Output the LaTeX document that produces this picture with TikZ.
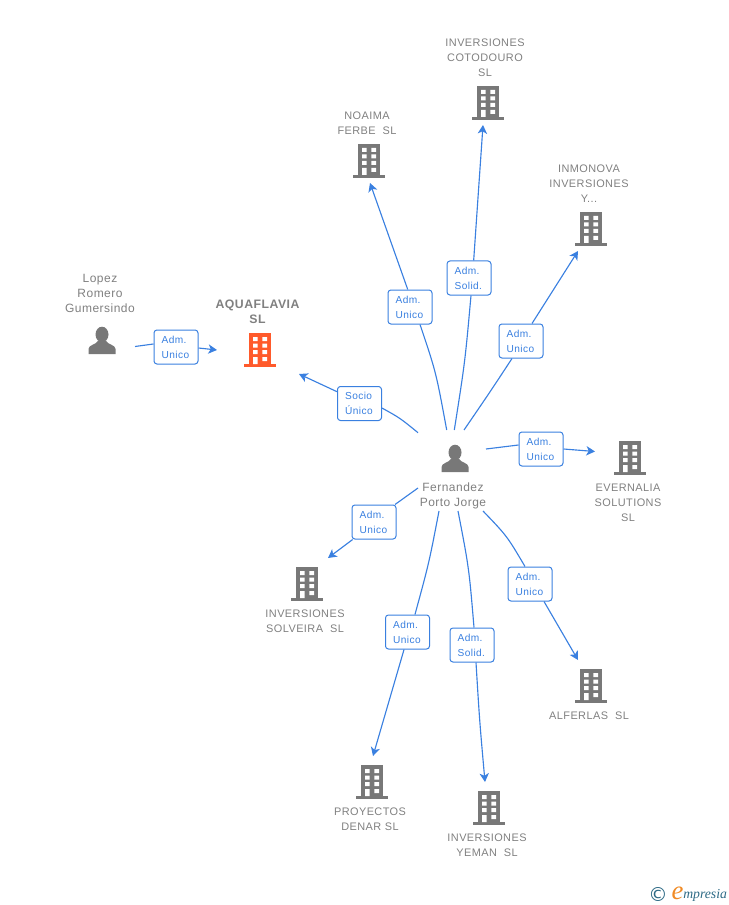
\documentclass[tikz,border=0pt]{standalone}
\usepackage{fontspec}
\setmainfont{Liberation Sans}
\newfontfamily\grayfont[LetterSpace=4]{Liberation Sans}
\newfontfamily\labfont[LetterSpace=4]{Liberation Sans}
\newfontfamily\logofont{Liberation Serif}
\newfontfamily\symfont{DejaVu Sans}
\usetikzlibrary{arrows.meta,backgrounds}
\definecolor{linkblue}{HTML}{3A80E0}
\definecolor{txtgray}{HTML}{808080}
\definecolor{icongray}{HTML}{787878}
\definecolor{mainorange}{HTML}{FF5A2B}
\definecolor{logoteal}{HTML}{2D6A85}
\definecolor{logoorange}{HTML}{F08A24}
\tikzset{
  x=0.75pt,y=-0.75pt,
  conn/.style={draw=linkblue,line width=0.85pt},
  arr/.style={conn,-{Stealth[length=6.5pt,width=7pt,inset=1.8pt]}},
  lab/.style={draw=linkblue,fill=white,rounded corners=2.2pt,line width=0.75pt,minimum height=25.5pt,inner xsep=5.75pt,inner ysep=0pt,text width=21.5pt,align=left,font=\labfont\fontsize{7.6}{11.25}\selectfont,text=linkblue},
  name text/.style={align=center,text=txtgray,inner sep=0pt,font=\grayfont\fontsize{8.2}{11.25}\selectfont},
  person text/.style={align=center,text=txtgray,inner sep=0pt,font=\grayfont\fontsize{9}{11.25}\selectfont},
  main text/.style={align=center,text=txtgray,inner sep=0pt,font=\grayfont\bfseries\fontsize{9.2}{11.25}\selectfont},
}
\newcommand{\bldg}[3]{%
  \begin{scope}[shift={(#1,#2)}]
    \fill[#3] (-11,-17) rectangle (11,15);
    \fill[#3] (-16,14) rectangle (16,17);
    \fill[white] (-7,-13) rectangle (-2.3,-9) (2.3,-13) rectangle (7,-9)
      (-7,-6.5) rectangle (-2.3,-2.5) (2.3,-6.5) rectangle (7,-2.5)
      (-7,0) rectangle (-2.3,4) (2.3,0) rectangle (7,4)
      (-7,7) rectangle (-2.3,14) (2.3,7) rectangle (7,11);
  \end{scope}}
\newcommand{\persona}[2]{%
  \begin{scope}[shift={(#1,#2)}]
    \fill[icongray] (0,-6.5) ellipse [x radius=6.5,y radius=7.8];
    \fill[icongray] (-13.5,13) -- (-13.5,8) .. controls (-13.5,4) and (-6,3.5) .. (-4,0)
      -- (4,0) .. controls (6,3.5) and (13.5,4) .. (13.5,8) -- (13.5,13) -- cycle;
  \end{scope}}
\begin{document}
\begin{tikzpicture}
\useasboundingbox (0,0) rectangle (728,905);
% labels
\node[lab] (l1) at (176,347) {Adm.\\Unico};
\node[lab] (l2) at (359.5,403.5) {Socio\\Único};
\node[lab] (l3) at (410,307) {Adm.\\Unico};
\node[lab] (l4) at (469,278) {Adm.\\Solid.};
\node[lab] (l5) at (521,341) {Adm.\\Unico};
\node[lab] (l6) at (541,449) {Adm.\\Unico};
\node[lab] (l7) at (374,522) {Adm.\\Unico};
\node[lab] (l8) at (407.5,632) {Adm.\\Unico};
\node[lab] (l9) at (472,645) {Adm.\\Solid.};
\node[lab] (l10) at (530,584) {Adm.\\Unico};
% free ends
\coordinate (s1) at (135,346.5); \coordinate (e1) at (217,350);
\coordinate (s2) at (418,432.7); \coordinate (e2) at (299,374);
\coordinate (s3) at (446.7,430); \coordinate (e3) at (370,183);
\coordinate (s4) at (454.3,430); \coordinate (e4) at (483,125);
\coordinate (s5) at (464,430); \coordinate (e5) at (578,251);
\coordinate (s6) at (486,449); \coordinate (e6) at (595,451.5);
\coordinate (s7) at (418,488); \coordinate (e7) at (328,558);
\coordinate (s8) at (439,511); \coordinate (e8) at (373,756);
\coordinate (s9) at (458,511); \coordinate (e9) at (485,782);
\coordinate (s10) at (483,511); \coordinate (e10) at (578,660);
\begin{scope}[on background layer]
\draw[conn] (s1) -- ([yshift=2.25pt]l1.west); \draw[arr] ([yshift=-0.75pt]l1.east) -- (e1);
\draw[conn] (s2) .. controls (400,418) .. ([yshift=-3.4pt]l2.east); \draw[arr] ([yshift=8.85pt]l2.west) -- (e2);
\draw[conn] (s3) .. controls (436,372) .. ([xshift=7.5pt]l3.south); \draw[arr] ([xshift=-1.7pt]l3.north) -- (e3);
\draw[conn] (s4) .. controls (465,362) .. ([xshift=1.5pt]l4.south); \draw[arr] ([xshift=3.5pt]l4.north) -- (e4);
\draw[conn] (s5) .. controls (490,392) .. ([xshift=-6.75pt]l5.south); \draw[arr] ([xshift=8.25pt]l5.north) -- (e5);
\draw[conn] (s6) -- ([yshift=3pt]l6.west); \draw[arr] (l6.east) -- (e6);
\draw[conn] (s7) -- ([xshift=15.75pt]l7.north); \draw[arr] ([xshift=-16pt]l7.south) -- (e7);
\draw[conn] (s8) .. controls (429,563) .. ([xshift=5.6pt]l8.north); \draw[arr] ([xshift=-2.6pt]l8.south) -- (e8);
\draw[conn] (s9) .. controls (469,568) .. ([xshift=1.5pt]l9.north); \draw[arr] ([xshift=3pt]l9.south) .. controls (479.5,720) .. (e9);
\draw[conn] (s10) .. controls (507,536) .. ([xshift=-3.75pt]l10.north); \draw[arr] ([xshift=10.5pt]l10.south) -- (e10);
\end{scope}
% icons
\bldg{369}{161}{icongray}
\bldg{488}{103}{icongray}
\bldg{591}{229}{icongray}
\bldg{630}{458}{icongray}
\bldg{307}{584}{icongray}
\bldg{591}{686}{icongray}
\bldg{372}{782}{icongray}
\bldg{489}{808}{icongray}
\bldg{260}{350}{mainorange}
\persona{102}{341}
\persona{455}{459}
% names
\node[person text] (n1) at (100,293) {Lopez\\Romero\\Gumersindo};
\node[main text] (n2) at (257.5,312) {AQUAFLAVIA\\SL};
\node[name text] (n3) at (367,123) {NOAIMA\\FERBE\ \ SL};
\node[name text] (n4) at (485,58) {INVERSIONES\\COTODOURO\\SL};
\node[name text] (n5) at (589,184) {INMONOVA\\INVERSIONES\\Y...};
\node[name text] (n6) at (628,503) {EVERNALIA\\SOLUTIONS\\SL};
\node[name text] (n7) at (305,621.5) {INVERSIONES\\SOLVEIRA\ \ SL};
\node[name text] (n8) at (589,716) {ALFERLAS\ \ SL};
\node[name text] (n9) at (370,819.5) {PROYECTOS\\DENAR SL};
\node[name text] (n10) at (487,845.5) {INVERSIONES\\YEMAN\ \ SL};
\node[person text] (n11) at (453,495.5) {Fernandez\\Porto Jorge};
% logo
\node[inner sep=0pt,text=logoteal,font=\symfont\fontsize{14.5}{14.5}\selectfont] (c) at (658,894) {©};
\node[inner sep=0pt,anchor=base,text=logoorange,font=\logofont\itshape\fontsize{20}{20}\selectfont] (le) at (677.5,899) {e};
\node[inner sep=0pt,anchor=base west,text=logoteal,font=\logofont\itshape\fontsize{10.3}{12}\selectfont] (lm) at (683,898) {mpresia};
\end{tikzpicture}
\end{document}
